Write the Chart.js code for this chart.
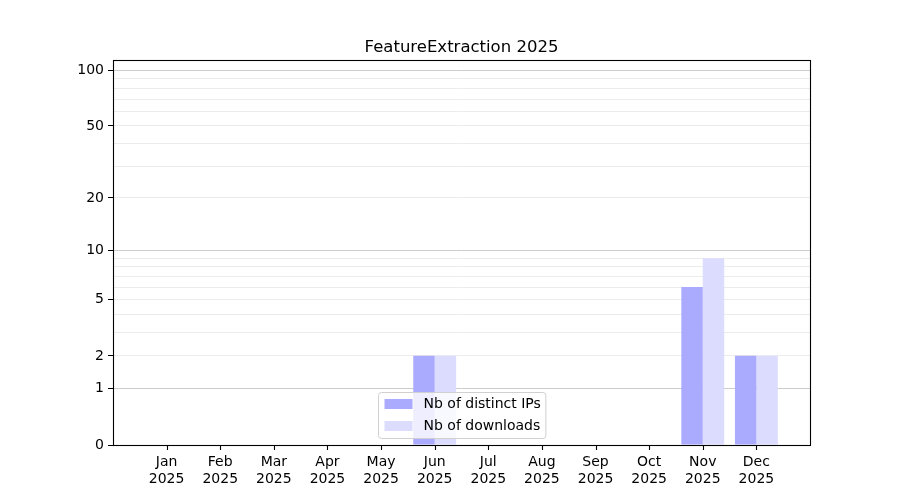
<!DOCTYPE html>
<html>
<head>
<meta charset="utf-8">
<script src="https://cdn.jsdelivr.net/npm/chart.js@4.4.1/dist/chart.umd.min.js"></script>
<style>
  html, body { margin: 0; padding: 0; background: #fff; }
  #wrap { width: 900px; height: 500px; }
</style>
</head>
<body>
<div id="wrap"><canvas id="c" width="900" height="500"></canvas></div>
<script>
// ---- data ----
const months = ['Jan', 'Feb', 'Mar', 'Apr', 'May', 'Jun', 'Jul', 'Aug', 'Sep', 'Oct', 'Nov', 'Dec'];
const year = '2025';
const distinctIPs = [0, 0, 0, 0, 0, 2, 0, 0, 0, 0, 6, 2];
const downloads = [0, 0, 0, 0, 0, 2, 0, 0, 0, 0, 9, 2];
const yLabelTicks = [0, 1, 2, 5, 10, 20, 50, 100];
const yMajorGrid = [1, 10, 100];
const yMinorGrid = [2, 3, 4, 5, 6, 7, 8, 9, 20, 30, 40, 50, 60, 70, 80, 90];
const yMax = 114;
const titleText = 'FeatureExtraction 2025';
const seriesNames = ['Nb of distinct IPs', 'Nb of downloads'];
const seriesColors = ['#aaaaff', '#dcdcff'];

// ---- log(1+x) scale ----
const tf = v => Math.log10(Math.max(v, 0) + 1);
class Log1pScale extends Chart.LinearScale {
  buildTicks() {
    const all = Array.from(new Set([0, ...yMajorGrid, ...yMinorGrid, ...yLabelTicks])).sort((a, b) => a - b);
    return all.filter(v => v >= this.min && v <= this.max).map(v => ({ value: v }));
  }
  configure() {
    super.configure();
    this._tStart = tf(this.min);
    this._tRange = tf(this.max) - tf(this.min);
  }
  getPixelForValue(v) {
    return this.getPixelForDecimal((tf(v) - this._tStart) / this._tRange);
  }
  getValueForPixel(p) {
    return Math.pow(10, this.getDecimalForPixel(p) * this._tRange + this._tStart) - 1;
  }
}
Log1pScale.id = 'log1p';
Log1pScale.defaults = {};
Chart.register(Log1pScale);

Chart.defaults.font.family = "'DejaVu Sans', sans-serif";
Chart.defaults.font.size = 14;
Chart.defaults.color = '#000';

// ---- title, x tick marks, legend + frame plugin ----
const framePlugin = {
  id: 'frame',
  afterDraw(chart) {
    const { ctx, chartArea: a } = chart;
    const xs = chart.scales.x;
    ctx.save();
    const cx = (a.left + a.right) / 2;
    // title
    ctx.font = "16.5px 'DejaVu Sans', sans-serif";
    ctx.fillStyle = '#000';
    ctx.textAlign = 'center';
    ctx.textBaseline = 'alphabetic';
    ctx.fillText(titleText, cx, a.top - 8);
    // x tick marks
    ctx.strokeStyle = '#000';
    ctx.lineWidth = 1.1;
    ctx.beginPath();
    months.forEach((m, i) => {
      const px = Math.round(xs.getPixelForValue(i)) + 0.5;
      ctx.moveTo(px, a.bottom);
      ctx.lineTo(px, a.bottom + 5);
    });
    ctx.stroke();
    // legend
    ctx.font = "14px 'DejaVu Sans', sans-serif";
    const textW = Math.max(...seriesNames.map(s => ctx.measureText(s).width));
    const w = 45 + textW + 5;
    const h = 46;
    const x0 = Math.round(cx - w / 2) + 0.5;
    const y0 = Math.round(a.bottom - 7 - h) + 0.5;
    const r = 3;
    ctx.beginPath();
    ctx.moveTo(x0 + r, y0);
    ctx.lineTo(x0 + w - r, y0);
    ctx.quadraticCurveTo(x0 + w, y0, x0 + w, y0 + r);
    ctx.lineTo(x0 + w, y0 + h - r);
    ctx.quadraticCurveTo(x0 + w, y0 + h, x0 + w - r, y0 + h);
    ctx.lineTo(x0 + r, y0 + h);
    ctx.quadraticCurveTo(x0, y0 + h, x0, y0 + h - r);
    ctx.lineTo(x0, y0 + r);
    ctx.quadraticCurveTo(x0, y0, x0 + r, y0);
    ctx.closePath();
    ctx.fillStyle = 'rgba(255,255,255,0.8)';
    ctx.fill();
    ctx.strokeStyle = '#d0d0d0';
    ctx.lineWidth = 1;
    ctx.stroke();
    ctx.textBaseline = 'middle';
    ctx.textAlign = 'left';
    seriesNames.forEach((s, i) => {
      const yy = y0 + 11.5 + i * 22;
      ctx.fillStyle = seriesColors[i];
      ctx.fillRect(x0 + 6, yy - 5, 28, 10);
      ctx.fillStyle = '#000';
      ctx.fillText(s, x0 + 45, yy);
    });
    // frame
    ctx.strokeStyle = '#000';
    ctx.lineWidth = 1.1;
    ctx.strokeRect(Math.round(a.left) + 0.5, Math.round(a.top) + 0.5, Math.round(a.right - a.left), Math.round(a.bottom - a.top));
    ctx.restore();
  }
};

const mkData = arr => arr.map((v, i) => ({ x: i, y: v }));

new Chart(document.getElementById('c'), {
  type: 'bar',
  data: {
    datasets: [
      { label: seriesNames[0], data: mkData(distinctIPs), backgroundColor: seriesColors[0], borderWidth: 0 },
      { label: seriesNames[1], data: mkData(downloads), backgroundColor: seriesColors[1], borderWidth: 0 }
    ]
  },
  options: {
    responsive: false,
    animation: false,
    categoryPercentage: 0.8,
    barPercentage: 1.0,
    layout: { padding: { left: 0, right: 90, top: 60, bottom: 0 } },
    plugins: {
      legend: { display: false },
      tooltip: { enabled: false },
      title: { display: false }
    },
    scales: {
      x: {
        type: 'linear',
        min: -1,
        max: 12,
        offset: false,
        afterBuildTicks: s => { s.ticks = Array.from({ length: 14 }, (_, k) => ({ value: k - 1 })); },
        afterFit: s => { s.height = 55; },
        border: { display: false },
        grid: { display: false, drawTicks: true, tickLength: 5 },
        ticks: {
          autoSkip: false,
          maxRotation: 0,
          padding: 4,
          color: '#000',
          callback: v => (v >= 0 && v < 12 && Number.isInteger(v)) ? [months[v], year] : ''
        }
      },
      y: {
        type: 'log1p',
        min: 0,
        max: yMax,
        afterFit: s => { s.width = 113; },
        border: { display: false },
        grid: {
          tickLength: 5,
          lineWidth: 1,
          color: c => {
            const v = c.tick ? c.tick.value : null;
            if (yMajorGrid.includes(v)) return '#cccccc';
            if (yMinorGrid.includes(v)) return '#ececec';
            return 'rgba(0,0,0,0)';
          },
          tickColor: c => (c.tick && yLabelTicks.includes(c.tick.value)) ? '#000' : 'rgba(0,0,0,0)'
        },
        ticks: {
          autoSkip: false,
          padding: 4,
          color: '#000',
          callback: v => yLabelTicks.includes(v) ? String(v) : ''
        }
      }
    }
  },
  plugins: [framePlugin]
});
</script>
</body>
</html>
